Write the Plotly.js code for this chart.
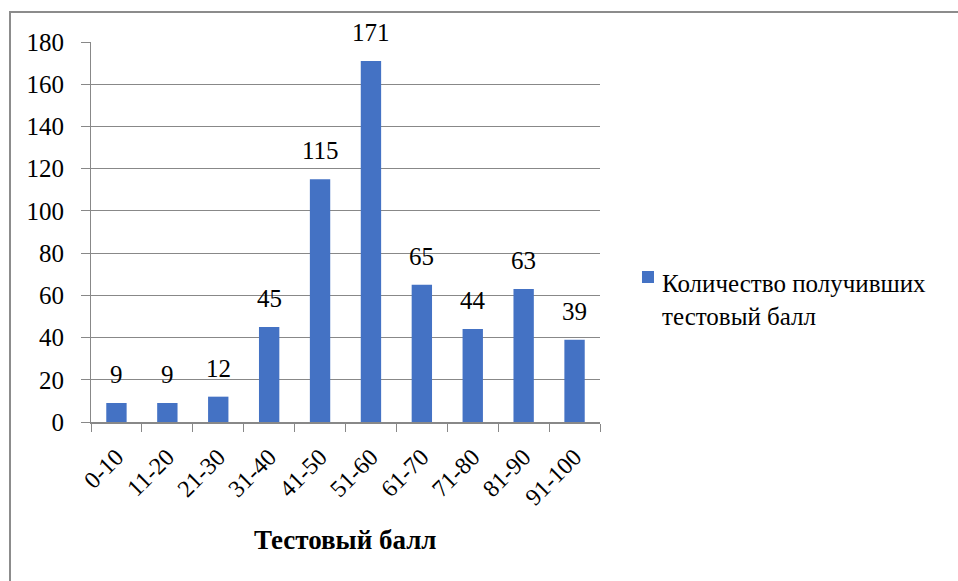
<!DOCTYPE html>
<html>
<head>
<meta charset="utf-8">
<script src="https://cdn.plot.ly/plotly-3.0.1.min.js"></script>
<style>
html,body{margin:0;padding:0;background:#fff;}
#wrap{position:relative;width:958px;height:581px;overflow:hidden;}
#chart{position:absolute;left:0;top:0;width:958px;height:581px;}
#frame{position:absolute;left:9px;top:11px;width:1000px;height:1000px;border-top:2px solid #8c8c8c;border-left:2px solid #8c8c8c;pointer-events:none;}
</style>
</head>
<body>
<div id="wrap"><div id="chart"></div><div id="frame"></div></div>
<script>
const categories = ["0-10","11-20","21-30","31-40","41-50","51-60","61-70","71-80","81-90","91-100"];
const counts = [9, 9, 12, 45, 115, 171, 65, 44, 63, 39];
const seriesLines = ["Количество получивших", "тестовый балл"];
const xTitle = "Тестовый балл";
const yTicks = [0,20,40,60,80,100,120,140,160,180];

const SERIF = '"Liberation Serif", "Times New Roman", serif';

const labelAnnotations = categories.map((c, i) => ({
  x: c, y: counts[i], xref: 'x', yref: 'y',
  text: String(counts[i]), showarrow: false,
  yanchor: 'bottom', yshift: 13,
  font: {family: SERIF, size: 25, color: '#000'}
}));

const trace = {
  type: 'bar', x: categories, y: counts,
  name: '\u00a0',
  marker: {color: '#4472C4'}, showlegend: true
};

const layout = {
  width: 958, height: 581,
  margin: {l: 91, r: 358, t: 42, b: 159},
  paper_bgcolor: '#fff', plot_bgcolor: '#fff',
  bargap: 0.6,
  font: {family: SERIF, size: 24, color: '#000'},
  xaxis: {
    type: 'category', tickangle: -45, tickson: 'boundaries',
    ticks: 'outside', ticklen: 8, tickcolor: '#888', tickwidth: 1,
    showline: true, linecolor: '#888', linewidth: 1.5,
    showgrid: false, zeroline: false, ticklabelstandoff: 10,
    tickfont: {family: SERIF, size: 24, color: '#000'}
  },
  yaxis: {
    range: [0, 180], tickvals: yTicks,
    ticks: 'outside', ticklen: 9, tickcolor: '#888', tickwidth: 1,
    showline: true, linecolor: '#888', linewidth: 1,
    showgrid: true, gridcolor: '#888', gridwidth: 1,
    zeroline: false, ticklabelstandoff: 12,
    tickfont: {family: SERIF, size: 25, color: '#000'}
  },
  showlegend: true,
  legend: {
    x: 1.055, y: 0.44, xanchor: 'left', yanchor: 'top',
    valign: 'top', bgcolor: 'rgba(0,0,0,0)',
    font: {family: SERIF, size: 24, color: '#000'},
    itemwidth: 30
  },
  annotations: labelAnnotations.concat([
    {
      x: 0.5, y: -0.31, xref: 'paper', yref: 'paper',
      text: '<b>' + xTitle + '</b>', showarrow: false,
      xanchor: 'center', yanchor: 'middle',
      font: {family: SERIF, size: 27, color: '#000'}
    },
    {
      x: 1.118, y: 0.405, xref: 'paper', yref: 'paper',
      text: seriesLines.join('<br>'), showarrow: false,
      xanchor: 'left', yanchor: 'top', align: 'left',
      font: {family: SERIF, size: 25, color: '#000'}
    }
  ])
};

Plotly.newPlot('chart', [trace], layout, {displayModeBar: false, staticPlot: true});
</script>
</body>
</html>
